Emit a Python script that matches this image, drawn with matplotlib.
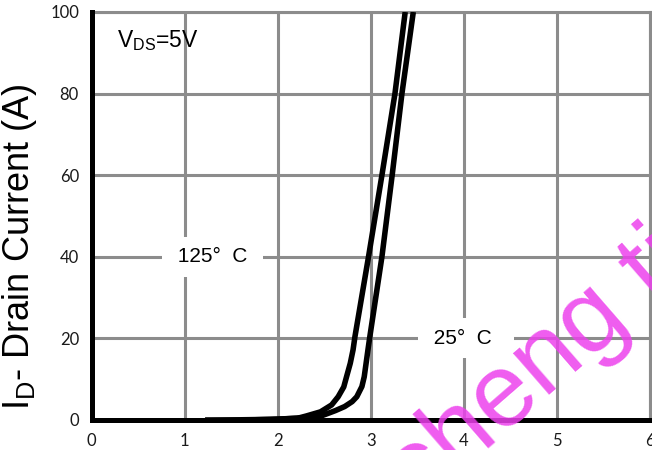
import matplotlib.pyplot as plt

# Transfer characteristics
vgs_125 = [1.22, 1.60, 1.92, 2.21, 2.31, 2.46, 2.58, 2.65, 2.71, 2.74, 2.78, 2.81, 2.83,
           2.976, 3.12, 3.26, 3.37]
id_125 = [0, 0.05, 0.15, 0.4, 1.0, 2.0, 3.7, 5.7, 8.1, 10.6, 13.9, 17.2, 20.4,
          40, 60, 80, 100]

vgs_25 = [1.67, 2.00, 2.31, 2.48, 2.62, 2.72, 2.80, 2.85, 2.905, 2.93, 2.95, 2.97, 2.99,
          3.12, 3.23, 3.335, 3.457]
id_25 = [0, 0.2, 0.6, 1.1, 2.3, 3.3, 4.5, 5.7, 8.2, 10.6, 13.9, 17.2, 20.4,
         40, 60, 80, 100]

x_ticks = [0, 1, 2, 3, 4, 5, 6]
y_ticks = [0, 20, 40, 60, 80, 100]

GRID = '#8c8c8c'
TEXT_FONT = ['Liberation Sans', 'DejaVu Sans']

plt.rcParams['mathtext.default'] = 'regular'

fig = plt.figure(figsize=(6.52, 4.5), dpi=100)
ax = fig.add_axes([91.5 / 652, 1 - 420 / 450, (650 - 91.5) / 652, (420 - 12) / 450])

ax.set_xlim(0, 6)
ax.set_ylim(0, 100)
ax.set_xticks(x_ticks)
ax.set_yticks(y_ticks)
ax.grid(True, color=GRID, linewidth=2.2, zorder=0)
ax.set_axisbelow(True)

for side in ['top', 'right']:
    ax.spines[side].set_color(GRID)
    ax.spines[side].set_linewidth(2.2)
for side in ['left', 'bottom']:
    ax.spines[side].set_color('black')
    ax.spines[side].set_linewidth(3.6)
    ax.spines[side].set_zorder(5)

ax.tick_params(length=0, pad=9, labelsize=12, labelcolor='#1a1a1a')
for lab in ax.get_xticklabels() + ax.get_yticklabels():
    lab.set_family(['Lato', 'DejaVu Sans'])

# Curves
for vgs, ids in [(vgs_125, id_125), (vgs_25, id_25)]:
    ax.plot(vgs, ids, color='black', linewidth=4, solid_joinstyle='round',
            solid_capstyle='butt', zorder=3)

# Curve labels with white boxes
box = dict(facecolor='white', edgecolor='none', boxstyle='square,pad=0.5')
ax.text(1.30, 40, ' 125°  C ', fontsize=15, family=TEXT_FONT,
        ha='center', va='center', bbox=box, zorder=4)
ax.text(4.02, 20, ' 25°  C  ', fontsize=15, family=TEXT_FONT,
        ha='center', va='center', bbox=box, zorder=4)

ax.text(0.27, 91.5, r'V$_{DS}$=5V', fontsize=16.5, family=TEXT_FONT,
        ha='left', va='baseline', zorder=4)

fig.text(20 / 652, 1 - 247 / 450, r'I$_{D}$- Drain Current (A)', fontsize=26,
         family=TEXT_FONT, rotation=90, ha='center', va='center')

# Watermark
fig.text(538 / 652, 1 - 370 / 450, 'cheng ti', fontsize=75, family=TEXT_FONT,
         color=(0.93, 0.25, 0.93), alpha=0.85, rotation=41,
         rotation_mode='anchor', ha='center', va='center', zorder=10)

fig.savefig('out.png', dpi=100)
